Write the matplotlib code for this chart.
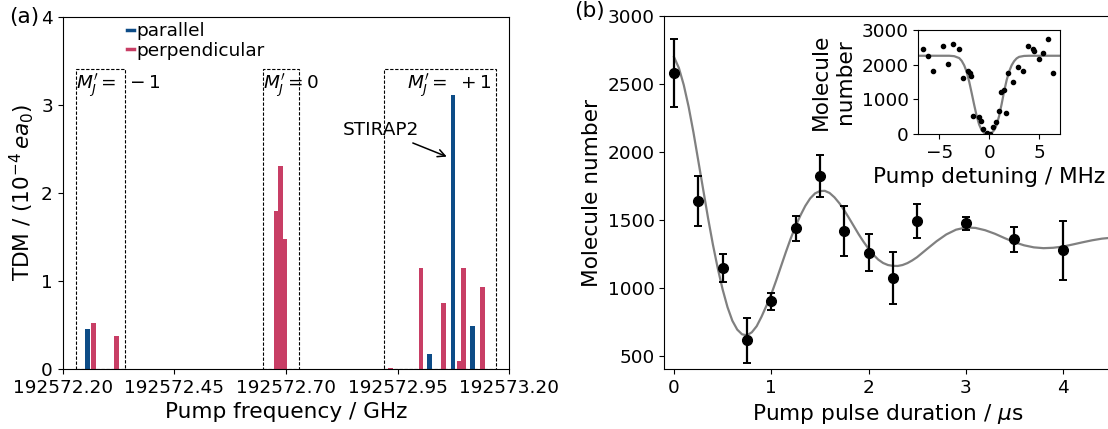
import matplotlib
matplotlib.use("Agg")
import matplotlib.pyplot as plt
from matplotlib.patches import Rectangle
from matplotlib.lines import Line2D

# ---------------- data: panel (a) ----------------
par_freq = [192572.255, 192573.022, 192573.074, 192573.117]
par_tdm = [0.45, 0.17, 3.11, 0.49]
perp_freq = [192572.2685, 192572.321, 192572.679, 192572.688, 192572.696,
             192572.934, 192573.002, 192573.052, 192573.088, 192573.097, 192573.140]
perp_tdm = [0.52, 0.38, 1.79, 2.30, 1.48, 0.01, 1.15, 0.75, 0.09, 1.15, 0.93]
box_x0 = [192572.230, 192572.649, 192572.919]
box_x1 = [192572.339, 192572.730, 192573.170]
box_top = 3.4
box_labels = [r"$M_J' = \ -1$", r"$M_J' = 0$", r"$M_J' = \ +1$"]
label_x = [192572.230, 192572.649, 192572.970]
freq_ticks = [192572.20, 192572.45, 192572.70, 192572.95, 192573.20]
freq_ticklabels = ["192572.20", "192572.45", "192572.70", "192572.95", "192573.20"]

# ---------------- data: panel (b) ----------------
t_us = [0, 0.25, 0.5, 0.75, 1.0, 1.25, 1.5, 1.75, 2.0, 2.25, 2.5, 3.0, 3.5, 4.0]
mol = [2585, 1640, 1147, 616, 904, 1439, 1822, 1419, 1262, 1075, 1495, 1476, 1358, 1279]
mol_err = [250, 183, 105, 167, 62, 92, 155, 186, 139, 193, 124, 49, 91, 216]

fit_t = [0, 0.05, 0.1, 0.15, 0.2, 0.25, 0.3, 0.35, 0.4, 0.45, 0.5, 0.55, 0.6, 0.65,
         0.7, 0.75, 0.8, 0.85, 0.9, 0.95, 1.0, 1.05, 1.1, 1.15, 1.2, 1.25, 1.3, 1.35,
         1.4, 1.45, 1.5, 1.55, 1.6, 1.65, 1.7, 1.75, 1.8, 1.85, 1.9, 1.95, 2.0, 2.05,
         2.1, 2.15, 2.2, 2.25, 2.3, 2.35, 2.4, 2.45, 2.5, 2.6, 2.7, 2.8, 2.9, 3.0,
         3.1, 3.2, 3.3, 3.4, 3.5, 3.6, 3.7, 3.8, 3.9, 4.0, 4.1, 4.2, 4.3, 4.4, 4.5]
fit_mol = [2700, 2620, 2495, 2335, 2145, 1935, 1725, 1515, 1320, 1145, 990, 860, 760, 695,
           660, 653, 675, 720, 790, 870, 955, 1055, 1160, 1265, 1365, 1455, 1535, 1605,
           1660, 1697, 1714, 1716, 1700, 1668, 1625, 1573, 1515, 1455, 1395, 1340, 1290, 1246,
           1210, 1185, 1170, 1164, 1163, 1170, 1184, 1204, 1228, 1287, 1345, 1395, 1430, 1446,
           1443, 1426, 1400, 1368, 1338, 1315, 1300, 1294, 1297, 1306, 1321, 1337, 1352, 1364, 1371]

# ---------------- data: inset ----------------
det = [-6.6, -6.1, -5.6, -4.6, -4.08, -3.6, -3.06, -2.6, -2.1, -1.87, -1.77, -1.57,
       -1.04, -0.8, -0.58, -0.18, 0.05, 0.43, 0.68, 0.94, 1.18, 1.44, 1.68, 1.9,
       2.44, 2.93, 3.43, 3.93, 4.42, 4.45, 4.95, 5.41, 5.94, 6.44]
det_mol = [2450, 2248, 1804, 2527, 2026, 2585, 2440, 1601, 1823, 1746, 1669, 511,
           482, 376, 135, 25, 5, 205, 340, 666, 1215, 1283, 608, 1765,
           1505, 1939, 1804, 2547, 2440, 2392, 2151, 2334, 2730, 1746]
det_fit_x = [-7.2, -4.0, -3.5, -3.0, -2.75, -2.5, -2.25, -2.0, -1.75, -1.5, -1.25, -1.0,
             -0.75, -0.5, -0.25, 0.0, 0.25, 0.5, 0.75, 1.0, 1.25, 1.5, 1.75, 2.0, 2.25,
             2.5, 2.75, 3.0, 3.5, 4.0, 7.2]
det_fit_y = [2257, 2257, 2245, 2190, 2110, 1980, 1790, 1510, 1180, 840, 520, 270,
             110, 30, 3, 3, 30, 110, 260, 520, 860, 1230, 1550, 1800, 1980,
             2100, 2180, 2225, 2252, 2257, 2257]

BLUE = "#0D4C87"
RED = "#C83E65"
TICK_FS = 13.3
LAB_FS = 15.6

plt.rcParams["font.family"] = ["DejaVu Sans"]
plt.rcParams["mathtext.fontset"] = "dejavusans"

W, H = 1108, 429
fig = plt.figure(figsize=(W / 100, H / 100), dpi=100)

# ---------------- panel (a) ----------------
axa = fig.add_axes([62.7 / W, 1 - 369 / H, (509.3 - 62.7) / W, (369 - 16.5) / H])
axa.bar(par_freq, par_tdm, width=0.0105, color=BLUE, zorder=2)
axa.bar(perp_freq, perp_tdm, width=0.0105, color=RED, zorder=2)
for x0, x1 in zip(box_x0, box_x1):
    axa.add_patch(Rectangle((x0, 0), x1 - x0, box_top, fill=False, ec="black",
                            lw=0.8, ls=(0, (3, 1.5)), zorder=1))
for lx, txt in zip(label_x, box_labels):
    axa.text(lx, 3.22, txt, fontsize=TICK_FS, ha="left", va="center")
axa.annotate("STIRAP2", xy=(192573.06, 2.41), xytext=(192572.827, 2.71),
             fontsize=TICK_FS, ha="left", va="center",
             arrowprops=dict(arrowstyle="->", color="black", lw=1.1,
                             shrinkA=2, shrinkB=0))
axa.set_xlim(192572.20, 192573.20)
axa.set_ylim(0, 4)
axa.set_xticks(freq_ticks)
axa.set_xticklabels(freq_ticklabels)
axa.set_yticks([0, 1, 2, 3, 4])
axa.tick_params(labelsize=TICK_FS)
axa.set_xlabel("Pump frequency / GHz", fontsize=LAB_FS)
axa.set_ylabel(r"TDM / $(10^{-4}\,ea_0)$", fontsize=LAB_FS)
handles = [Line2D([], [], color=BLUE, lw=2.5), Line2D([], [], color=RED, lw=2.5)]
axa.legend(handles, ["parallel", "perpendicular"], loc="upper left",
           bbox_to_anchor=(0.1447, 0.983), frameon=False, fontsize=TICK_FS,
           handlelength=0.35, handletextpad=0.15, labelspacing=0.06,
           borderpad=0, borderaxespad=0)

# ---------------- panel (b) ----------------
axb = fig.add_axes([664.3 / W, 1 - 369 / H, (1111.6 - 664.3) / W, (369 - 16.3) / H])
axb.plot(fit_t, fit_mol, color="grey", lw=1.6, zorder=2)
axb.errorbar(t_us, mol, yerr=mol_err, fmt="o", color="black", ms=7,
             elinewidth=1.6, capsize=2.6, capthick=1.4, zorder=3)
axb.set_xlim(-0.1, 4.5)
axb.set_ylim(405, 3000)
axb.set_xticks([0, 1, 2, 3, 4])
axb.set_yticks([500, 1000, 1500, 2000, 2500, 3000])
axb.tick_params(labelsize=TICK_FS)
axb.set_xlabel(r"Pump pulse duration / $\mu$s", fontsize=LAB_FS)
axb.set_ylabel("Molecule number", fontsize=LAB_FS)

# ---------------- inset ----------------
axi = fig.add_axes([918.3 / W, 1 - 134 / H, (1060 - 918.3) / W, (134 - 30) / H])
axi.plot(det_fit_x, det_fit_y, color="grey", lw=1.6, zorder=2)
axi.plot(det, det_mol, "o", color="black", ms=3, zorder=3)
axi.set_xlim(-7.1, 7.1)
axi.set_ylim(0, 3000)
axi.set_xticks([-5, 0, 5])
axi.set_yticks([0, 1000, 2000, 3000])
axi.tick_params(labelsize=TICK_FS)
axi.set_xlabel("Pump detuning / MHz", fontsize=LAB_FS)
axi.set_ylabel("Molecule\nnumber", fontsize=LAB_FS, labelpad=5)

fig.text(9 / W, 1 - 17 / H, "(a)", fontsize=LAB_FS, ha="left", va="center")
fig.text(574 / W, 1 - 11 / H, "(b)", fontsize=LAB_FS, ha="left", va="center")

fig.savefig("out.png", dpi=100)
